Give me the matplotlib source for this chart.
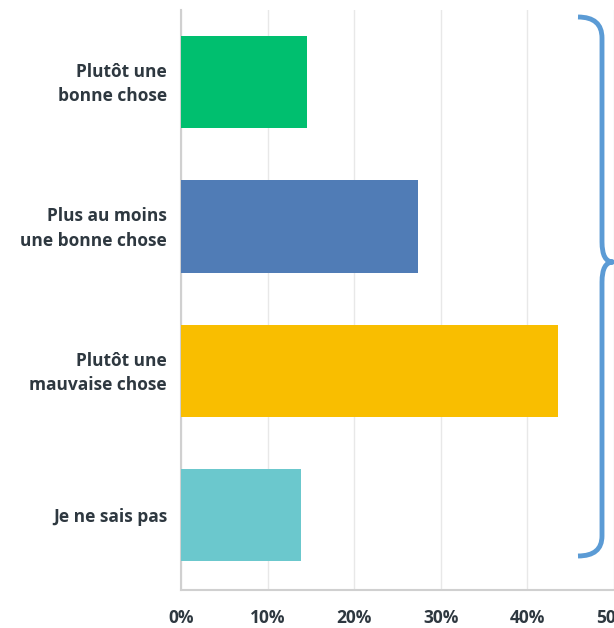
import matplotlib.pyplot as plt
from matplotlib.path import Path
from matplotlib.patches import PathPatch
from matplotlib.ticker import FuncFormatter
from matplotlib.transforms import ScaledTranslation

categories = ["Plutôt une\nbonne chose", "Plus au moins\nune bonne chose",
              "Plutôt une\nmauvaise chose", "Je ne sais pas"]
values = [14.6, 27.4, 43.5, 13.9]
colors = ["#00BF6F", "#507CB6", "#F9BE00", "#6BC8CD"]
xticks = [0, 10, 20, 30, 40, 50]

plt.rcParams['font.family'] = ['Open Sans', 'DejaVu Sans']
text_color = "#2e3840"

W, H = 614, 628
fig = plt.figure(figsize=(W / 100, H / 100), dpi=100)
# axes placed in pixels: left 181, right 614, top 10, bottom 590
ax = fig.add_axes([181 / W, (H - 590) / H, (614 - 181) / W, (590 - 10) / H])

ypos = range(len(categories))
ax.barh(ypos, values, height=0.64, color=colors, zorder=3)
ax.set_ylim(3.52, -0.5)
ax.set_xlim(0, 50)

ax.set_xticks(xticks)
ax.xaxis.set_major_formatter(FuncFormatter(lambda v, p: f"{int(v)}%"))
ax.set_yticks(list(ypos))
ax.set_yticklabels(categories, linespacing=1.45)

ax.tick_params(axis='both', length=0, colors=text_color)
ax.tick_params(axis='x', pad=14, labelsize=12.5)
ax.tick_params(axis='y', pad=10, labelsize=12.5)
for lbl in ax.get_xticklabels() + ax.get_yticklabels():
    lbl.set_fontweight('bold')
# two-line labels sit a touch high in the original
shift = ScaledTranslation(0, 3 / 100, fig.dpi_scale_trans)
for lbl in ax.get_yticklabels():
    lbl.set_horizontalalignment('right')
    if "\n" in lbl.get_text():
        lbl.set_transform(lbl.get_transform() + shift)

ax.grid(axis='x', color='#e8e8e8', linewidth=1, zorder=0)
for s in ['top', 'right']:
    ax.spines[s].set_visible(False)
for s in ['left', 'bottom']:
    ax.spines[s].set_color('#d0d0d0')
    ax.spines[s].set_linewidth(1.5)

# curly brace on the right, in pixel coordinates
def px(x, y):
    return (x, H - y)

verts = [px(578, 17), px(602, 17), px(602, 38),
         px(602, 242),
         px(602, 262), px(613, 262),
         px(602, 262), px(602, 282),
         px(602, 536),
         px(602, 556), px(578, 556)]
codes = [Path.MOVETO, Path.CURVE3, Path.CURVE3,
         Path.LINETO,
         Path.CURVE3, Path.CURVE3,
         Path.CURVE3, Path.CURVE3,
         Path.LINETO,
         Path.CURVE3, Path.CURVE3]
brace = PathPatch(Path(verts, codes), facecolor='none', edgecolor='#5B9BD5',
                  linewidth=3.5, transform=None, capstyle='butt', joinstyle='round')
fig.patches.append(brace)

fig.savefig("out.png", dpi=100)
